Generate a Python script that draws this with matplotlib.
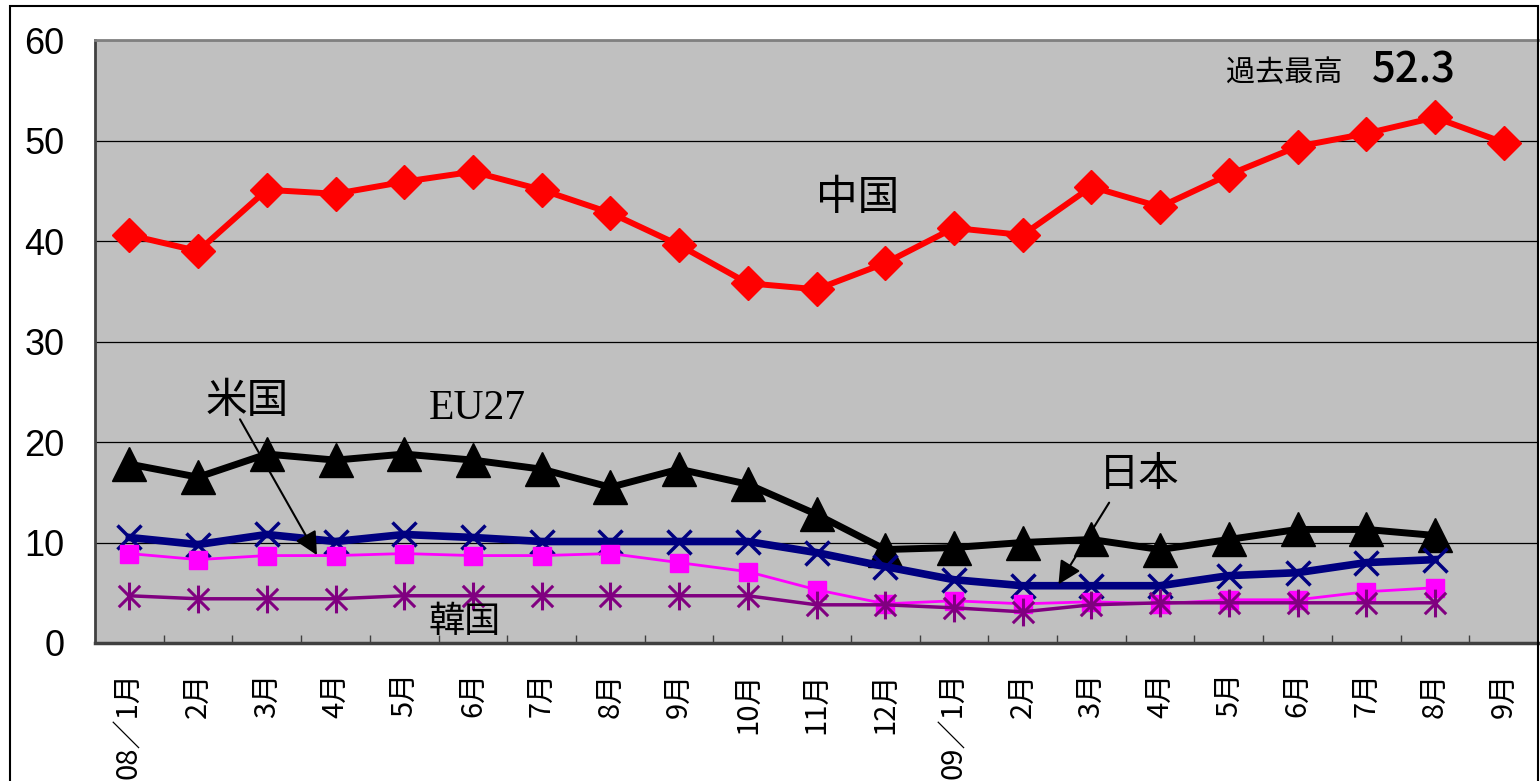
import matplotlib.pyplot as plt
from matplotlib.path import Path
from matplotlib.patches import Rectangle

plt.rcParams['font.family'] = ['Noto Sans CJK JP', 'DejaVu Sans']

months = ["08／1月", "2月", "3月", "4月", "5月", "6月", "7月", "8月", "9月", "10月",
          "11月", "12月", "09／1月", "2月", "3月", "4月", "5月", "6月", "7月", "8月", "9月"]

china = [40.6, 39.0, 45.1, 44.7, 45.9, 46.9, 45.1, 42.8, 39.6, 35.8, 35.2,
         37.8, 41.3, 40.6, 45.4, 43.4, 46.6, 49.4, 50.7, 52.3, 49.8]
eu27 = [17.8, 16.5, 18.8, 18.2, 18.8, 18.2, 17.3, 15.5, 17.3, 15.8, 12.8,
        9.3, 9.5, 10.0, 10.3, 9.3, 10.3, 11.3, 11.3, 10.7]
usa = [10.5, 9.8, 10.8, 10.1, 10.8, 10.5, 10.1, 10.1, 10.1, 10.1, 9.0,
       7.6, 6.3, 5.7, 5.7, 5.7, 6.7, 7.0, 8.0, 8.3]
japan = [8.9, 8.3, 8.7, 8.7, 8.9, 8.7, 8.7, 8.9, 8.0, 7.1, 5.3,
         3.9, 4.2, 3.9, 4.1, 3.9, 4.3, 4.3, 5.1, 5.5]
korea = [4.7, 4.4, 4.4, 4.4, 4.7, 4.7, 4.7, 4.7, 4.7, 4.7, 3.8,
         3.8, 3.5, 3.1, 3.8, 4.0, 4.0, 4.0, 4.0, 4.0]

# excel style asterisk: X plus a vertical bar
star = Path([(-1, -1), (1, 1), (-1, 1), (1, -1), (0, -1.3), (0, 1.3)],
            [Path.MOVETO, Path.LINETO, Path.MOVETO, Path.LINETO, Path.MOVETO, Path.LINETO])

fig = plt.figure(figsize=(15.4, 7.81), dpi=100)
ax = fig.add_axes([0.0617, 0.1767, 0.937, 0.772])
ax.set_facecolor("#C0C0C0")

x = list(range(len(months)))
ax.plot(x[:len(china)], china, color="#FF0000", lw=4.3, marker="D", ms=17, zorder=3)
ax.plot(x[:len(eu27)], eu27, color="black", lw=5, marker="^", ms=24, zorder=4)
ax.plot(x[:len(usa)], usa, color="#000080", lw=5.5, marker="x", ms=17, mew=2.5, zorder=5)
ax.plot(x[:len(japan)], japan, color="#FF00FF", lw=2, marker="s", ms=13, zorder=6)
ax.plot(x[:len(korea)], korea, color="#800080", lw=2.5, marker=star, ms=20, mew=2.2,
        mfc="none", zorder=7)

ax.set_xlim(-0.5, len(months) - 0.5)
ax.set_ylim(0, 60)
ax.set_yticks(range(0, 61, 10))
ax.yaxis.grid(True, color="black", lw=0.9)
ax.set_axisbelow(True)
for lab in ax.get_yticklabels():
    lab.set_family("Liberation Sans")
ax.tick_params(axis="y", length=0, pad=22, labelsize=26)

ax.set_xticks(x)
ax.set_xticklabels(months, rotation=90, va="top", ha="center", fontsize=21)
ax.set_xticks([i + 0.5 for i in x[:-1]], minor=True)
ax.tick_params(axis="x", which="major", length=0, pad=21)
ax.tick_params(axis="x", which="minor", direction="in", length=6, width=1, color="#404040")

ax.spines["left"].set_color("#404040")
ax.spines["left"].set_linewidth(2)
ax.spines["bottom"].set_color("#404040")
ax.spines["bottom"].set_linewidth(2.5)
ax.spines["top"].set_color("#808080")
ax.spines["top"].set_linewidth(2)
ax.spines["right"].set_visible(False)

ax.text(10.6, 44.2, "中国", fontsize=30, ha="center", va="center")
ax.text(1.72, 24.0, "米国", fontsize=30, ha="center", va="center")
ax.text(5.07, 23.3, "EU27", fontsize=30, ha="center", va="center", family="Liberation Serif")
ax.text(14.7, 16.8, "日本", fontsize=29, ha="center", va="center")
ax.text(4.88, 2.1, "韓国", fontsize=26, ha="center", va="center", zorder=8)
ax.text(16.8, 56.7, "過去最高", fontsize=21, ha="center", va="center")
ax.text(18.7, 57.0, "52.3", fontsize=30, ha="center", va="center", weight="medium")

arrow = dict(arrowstyle="-|>", color="black", lw=1.5, mutation_scale=35)
ax.annotate("", xy=(2.75, 8.5), xytext=(1.59, 22.5), arrowprops=arrow, zorder=9)
ax.annotate("", xy=(13.5, 5.6), xytext=(14.28, 14.2), arrowprops=arrow, zorder=9)

fig.add_artist(Rectangle((0.0065, -0.02), 0.9922, 1.012, transform=fig.transFigure,
                         fill=False, edgecolor="black", lw=1.5))

fig.savefig("out.png", dpi=100)
